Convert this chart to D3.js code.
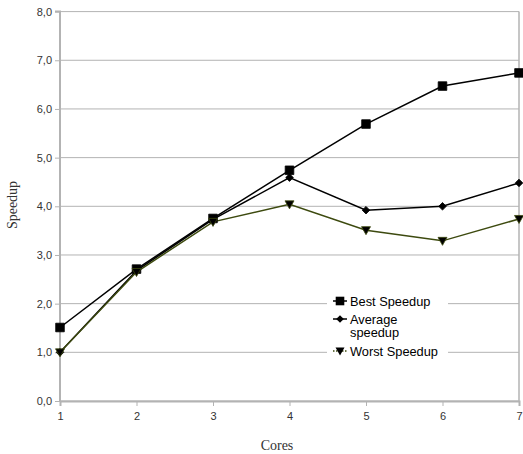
<!DOCTYPE html>
<html>
<head>
<meta charset="utf-8">
<script src="https://cdn.jsdelivr.net/npm/d3@7"></script>
<style>
  body { margin: 0; background: #fff; }
</style>
</head>
<body>
<svg id="chart" width="523" height="454"></svg>
<script>
const cores = [1, 2, 3, 4, 5, 6, 7]
const bestSpeedup = [1.51, 2.71, 3.75, 4.74, 5.69, 6.47, 6.74]
const averageSpeedup = [1.0, 2.68, 3.73, 4.59, 3.92, 4.0, 4.48]
const worstSpeedup = [1.0, 2.65, 3.68, 4.04, 3.51, 3.29, 3.74]
const yTicks = [0, 1, 2, 3, 4, 5, 6, 7, 8]

const series = [
  { name: "Best Speedup", values: bestSpeedup, color: "#000", symbol: "square" },
  { name: "Average speedup", lines: ["Average", "speedup"], values: averageSpeedup, color: "#000", symbol: "diamond" },
  { name: "Worst Speedup", values: worstSpeedup, color: "#3d4a0f", symbol: "tri" }
]

let margin = { top: 11.6, right: 4, bottom: 53, left: 60 }
const width = 523, height = 454

const svg = d3.select("#chart")

const xScale = d3.scaleLinear()
  .domain([1, 7])
  .range([margin.left, width - margin.right])

const yScale = d3.scaleLinear()
  .domain([0, 8])
  .range([height - margin.bottom, margin.top])

// gridlines
svg.append("g")
  .selectAll("line")
  .data(yTicks)
  .enter()
  .append("line")
  .attr("x1", margin.left)
  .attr("x2", width - margin.right)
  .attr("y1", d => yScale(d))
  .attr("y2", d => yScale(d))
  .style("stroke", "#b3b3b3")
  .style("stroke-width", 1)

// right border
svg.append("line")
  .attr("x1", xScale(7)).attr("x2", xScale(7))
  .attr("y1", yScale(8)).attr("y2", yScale(0))
  .style("stroke", "#b3b3b3")
  .style("stroke-width", 1.5)

const y_axis = d3.axisLeft(yScale)
  .tickValues(yTicks)
  .tickSize(5)
  .tickPadding(3)
  .tickFormat(d => d3.format(".1f")(d).replace(".", ","))

const x_axis = d3.axisBottom(xScale)
  .tickValues(cores)
  .tickSize(5)
  .tickPadding(6)
  .tickFormat(d3.format("d"))

const yg = svg.append("g")
  .attr("transform", "translate(" + margin.left + ",0)")
  .call(y_axis)
const xg = svg.append("g")
  .attr("transform", "translate(0," + yScale(0) + ")")
  .call(x_axis)

;[yg, xg].forEach(g => {
  g.select(".domain").style("stroke", "#b3b3b3").style("stroke-width", 2)
  g.selectAll(".tick line").style("stroke", "#b3b3b3")
  g.selectAll(".tick text")
    .attr("font-family", "'Liberation Sans', Arial, sans-serif")
    .attr("font-size", 11)
    .style("fill", "#333")
})
yg.select(".domain").attr("d", "M-5," + yScale(8) + "H0V" + yScale(0))

// axis titles
svg.append("text")
  .attr("x", 277)
  .attr("y", 450)
  .attr("text-anchor", "middle")
  .attr("font-family", "'Liberation Serif', 'DejaVu Serif', serif")
  .attr("font-size", 14)
  .style("fill", "#333")
  .text("Cores")

svg.append("text")
  .attr("transform", "translate(17," + 205 + ") rotate(-90)")
  .attr("text-anchor", "middle")
  .attr("font-family", "'Liberation Serif', 'DejaVu Serif', serif")
  .attr("font-size", 14)
  .style("fill", "#333")
  .text("Speedup")

function markerPath(s) {
  if (s.symbol === "tri") return "M-4.5,-3.5L4.5,-3.5L0,4.5Z"
  if (s.symbol === "diamond") return "M0,-3.8L3.8,0L0,3.8L-3.8,0Z"
  return "M-4.3,-4.3H4.3V4.3H-4.3Z"
}

const line = d3.line()
  .x((d, i) => xScale(cores[i]))
  .y(d => yScale(d))

// series lines
series.forEach(s => {
  svg.append("path")
    .datum(s.values)
    .attr("d", line)
    .style("fill", "none")
    .style("stroke", s.color)
    .style("stroke-width", 1.5)
})

// markers on top
series.forEach(s => {
  svg.append("g")
    .selectAll("path")
    .data(s.values)
    .enter()
    .append("path")
    .attr("transform", (d, i) => "translate(" + xScale(cores[i]) + "," + yScale(d) + ")")
    .attr("d", markerPath(s))
    .style("fill", "#000")
    .style("stroke", s.color)
    .style("stroke-width", 0.8)
})

// legend
const legend = svg.append("g").attr("transform", "translate(327,290)")
legend.append("rect")
  .attr("width", 121)
  .attr("height", 70)
  .style("fill", "#fff")

const legendRows = [11, 29, 61]
series.forEach((s, i) => {
  const row = legend.append("g").attr("transform", "translate(0," + legendRows[i] + ")")
  row.append("line")
    .attr("x1", 6).attr("x2", 20)
    .style("stroke", s.color)
    .style("stroke-width", 1.5)
    .style("stroke-dasharray", i === 2 ? "1.5,1.5" : null)
  row.append("path")
    .attr("transform", "translate(13,0)")
    .attr("d", markerPath(s))
    .style("fill", "#000")
  const lines = s.lines || [s.name]
  lines.forEach((l, j) => {
    row.append("text")
      .attr("x", 23)
      .attr("y", 4.5 + j * 13.5)
      .attr("font-family", "'Liberation Sans', Arial, sans-serif")
      .attr("font-size", 12.8)
      .style("fill", "#000")
      .text(l)
  })
})
</script>
</body>
</html>
